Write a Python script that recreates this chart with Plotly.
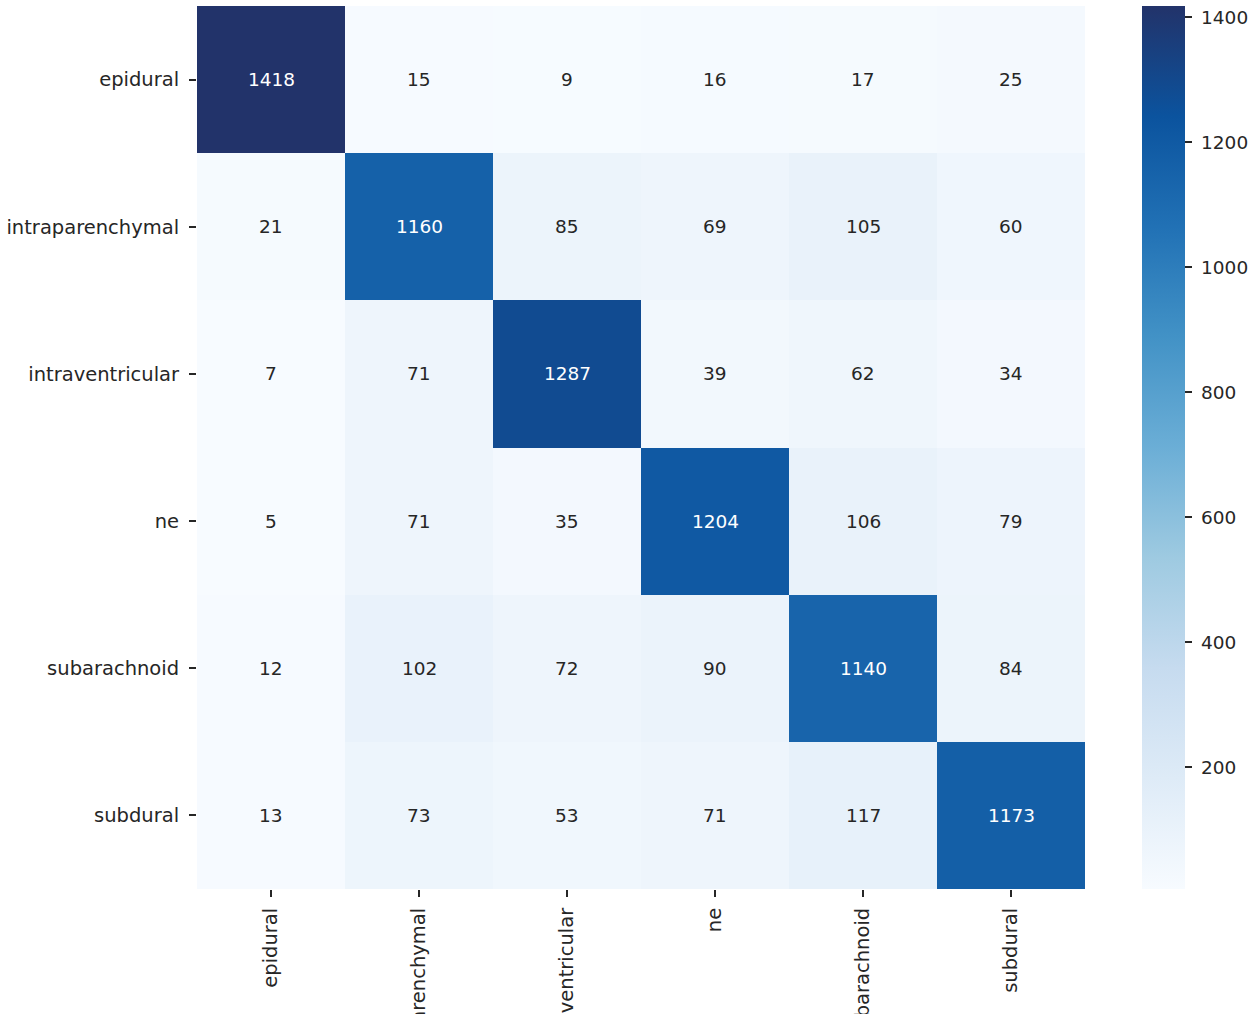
import plotly.graph_objects as go

labels = ["epidural", "intraparenchymal", "intraventricular", "ne", "subarachnoid", "subdural"]
matrix = [
    [1418, 15, 9, 16, 17, 25],
    [21, 1160, 85, 69, 105, 60],
    [7, 71, 1287, 39, 62, 34],
    [5, 71, 35, 1204, 106, 79],
    [12, 102, 72, 90, 1140, 84],
    [13, 73, 53, 71, 117, 1173],
]
cbar_ticks = [200, 400, 600, 800, 1000, 1200, 1400]

blues = ["#f7fbff", "#deebf7", "#c6dbef", "#9ecae1", "#6baed6",
         "#4292c6", "#2171b5", "#0b539e", "#22336a"]
colorscale = [[i / (len(blues) - 1), c] for i, c in enumerate(blues)]

zmin = min(min(r) for r in matrix)
zmax = max(max(r) for r in matrix)

TXT = "#262626"
fig = go.Figure()
fig.add_trace(go.Heatmap(
    z=matrix, x=labels, y=labels,
    colorscale=colorscale, zmin=zmin, zmax=zmax,
    xgap=0, ygap=0,
    colorbar=dict(
        x=1.064, xanchor="left", y=0, yanchor="bottom", len=1, lenmode="fraction",
        thickness=43, outlinewidth=0, xpad=0, ypad=0,
        tickvals=cbar_ticks, ticktext=["\u00a0" + str(t) for t in cbar_ticks],
        ticks="outside", ticklen=7, tickwidth=1.5, tickcolor=TXT,
        tickfont=dict(family="DejaVu Sans", size=18.5, color=TXT),
    ),
    hoverinfo="skip",
))

annotations = []
for i, row in enumerate(matrix):
    for j, v in enumerate(row):
        frac = (v - zmin) / (zmax - zmin)
        annotations.append(dict(
            x=labels[j], y=labels[i], text=str(v), showarrow=False,
            font=dict(family="DejaVu Sans", size=18.5,
                      color="#ffffff" if frac > 0.6 else TXT),
        ))

# the figure ends a little above the window bottom, where the long
# rotated x labels are cut off in the reference
fig.update_layout(
    width=1254, height=1014,
    margin=dict(l=197, r=169, t=6, b=125),
    paper_bgcolor="white", plot_bgcolor="white",
    font=dict(family="DejaVu Sans", size=19.5, color=TXT),
    annotations=annotations,
)
fig.update_xaxes(
    tickangle=-90, ticks="outside", ticklen=7, tickwidth=1.5, tickcolor=TXT,
    ticklabelstandoff=3,
    tickfont=dict(family="DejaVu Sans", size=19.5, color=TXT),
    showgrid=False, zeroline=False, showline=False, automargin=False,
)
fig.update_yaxes(
    autorange="reversed", ticks="outside", ticklen=7, tickwidth=1.5, tickcolor=TXT,
    ticklabelstandoff=6,
    tickfont=dict(family="DejaVu Sans", size=19.5, color=TXT),
    showgrid=False, zeroline=False, showline=False, automargin=False,
)

fig.write_html(
    "out.html",
    config={"displayModeBar": False},
    post_script="document.body.style.margin='0';document.body.style.overflow='hidden';",
)
